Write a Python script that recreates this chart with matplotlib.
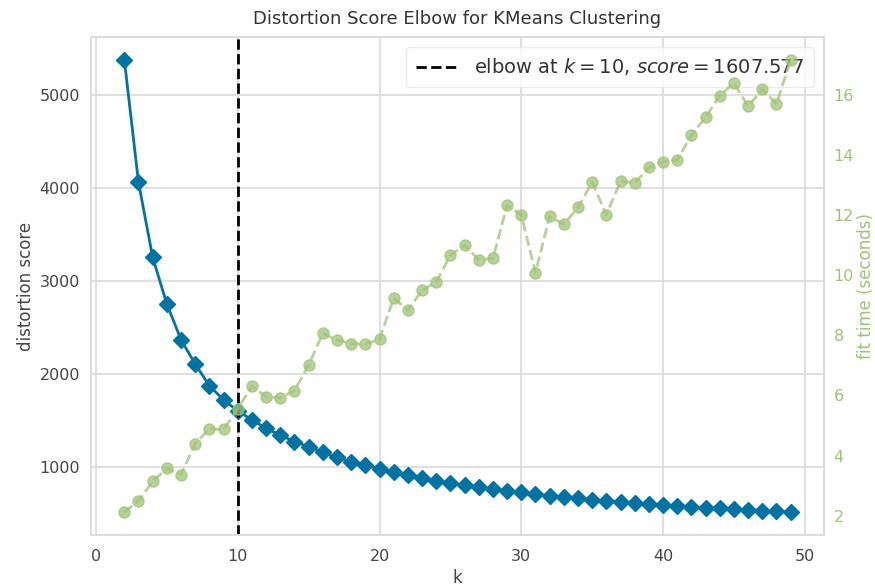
import matplotlib
matplotlib.use("Agg")
import matplotlib.pyplot as plt

k_values = list(range(2, 50))
distortion = [5378, 4061, 3256, 2754, 2371, 2110, 1877, 1726, 1607.577, 1511,
              1420, 1347, 1278, 1223, 1161, 1107, 1060, 1025, 985, 954,
              918, 882, 857, 832, 811, 786, 768, 750, 732, 714,
              696, 679, 668, 654, 643, 632, 618, 607, 596, 589,
              579, 568, 561, 554, 543, 536, 529, 518]
fit_time = [2.11, 2.50, 3.14, 3.57, 3.37, 4.40, 4.89, 4.87,
            5.56, 6.31, 5.96, 5.92, 6.16, 7.01, 8.07, 7.84, 7.73, 7.71, 7.87,
            9.24, 8.84, 9.50, 9.78, 10.67, 11.01, 10.51, 10.56, 12.33, 12.01,
            10.09, 11.96, 11.70, 12.26, 13.10, 12.02, 13.14, 13.07, 13.59, 13.78,
            13.84, 14.67, 15.26, 15.98, 16.40, 15.62, 16.20, 15.70, 17.18]
elbow_k = 10
elbow_score = 1607.577

BLUE = "#0272a2"
GREEN = "#9fc377"
GRID = "#dcdcdc"
TEXT = "#444444"

plt.rcParams["font.family"] = "DejaVu Sans"
fig = plt.figure(figsize=(8.75, 5.87), dpi=100)
ax = fig.add_axes([0.104, 0.0886, 0.8377, 0.8484])

ax.plot(k_values, distortion, color=BLUE, marker="D", markersize=8, linewidth=2)
ax.axvline(elbow_k, color="black", linestyle="--", linewidth=2,
           label="elbow at $k=%d$, $score=%.3f$" % (elbow_k, elbow_score))
ax.set_title("Distortion Score Elbow for KMeans Clustering", fontsize=13, color="#333333", pad=9)
ax.set_xlabel("k", fontsize=12, color=TEXT, labelpad=4)
ax.set_ylabel("distortion score", fontsize=12, color=TEXT, labelpad=3)
ax.grid(True, color=GRID, linewidth=1.3)
ax.set_axisbelow(True)
ax.tick_params(axis="y", length=0, labelsize=11.5, labelcolor=TEXT, pad=8)
ax.tick_params(axis="x", length=0, labelsize=11.5, labelcolor=TEXT, pad=10)
for s in ax.spines.values():
    s.set_color(GRID)
    s.set_linewidth(1.3)
ax.set_xticks([0, 10, 20, 30, 40, 50])
ax.set_yticks([1000, 2000, 3000, 4000, 5000])
leg = ax.legend(loc="upper right", fontsize=14, frameon=True, borderpad=0.5,
                handlelength=2.2)
leg.get_frame().set_edgecolor("#e6e6e6")
for t in leg.get_texts():
    t.set_color("#333333")

ax2 = ax.twinx()
ax2.plot(k_values, fit_time, color=GREEN, marker="o", markersize=8, linestyle="--",
         linewidth=2, alpha=0.75)
ax2.grid(False)
ax2.set_ylabel("fit time (seconds)", fontsize=12, color=GREEN, labelpad=2)
ax2.tick_params(axis="y", length=0, labelsize=11.5, colors=GREEN, pad=7)
ax2.set_yticks([2, 4, 6, 8, 10, 12, 14, 16])
for s in ax2.spines.values():
    s.set_color(GRID)
    s.set_linewidth(1.3)

fig.savefig("out.png", dpi=100)
